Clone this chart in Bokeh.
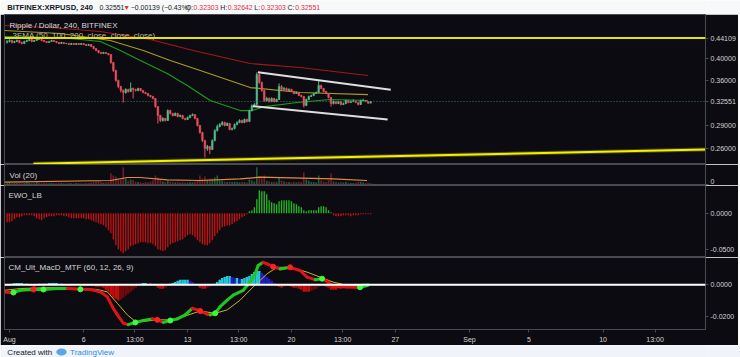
from bokeh.plotting import figure
from bokeh.layouts import column
from bokeh.models import Range1d, FixedTicker, PrintfTickFormatter, Span
from bokeh.core.properties import value
from bokeh.embed import file_html
from bokeh.resources import INLINE

# ---------------- data ----------------
N = 148
day = [0.8333 + i / 6 for i in range(N)]   # 4h candles, day of August (Sep 1 = 32)
first_open = 0.4319
close = [
    0.4339, 0.4360, 0.4319, 0.4339, 0.4360, 0.4319, 0.4298, 0.4339, 0.4360, 0.4381,
    0.4339, 0.4360, 0.4402, 0.4381, 0.4360, 0.4339, 0.4319, 0.4339, 0.4360, 0.4339,
    0.4319, 0.4298, 0.4319, 0.4298, 0.4298, 0.4277, 0.4298, 0.4277, 0.4298, 0.4277,
    0.4298, 0.4277, 0.4257, 0.4277, 0.4237, 0.4196, 0.4156, 0.4117, 0.4097, 0.4117,
    0.4097, 0.4077, 0.3924, 0.3777, 0.3600, 0.3498, 0.3432, 0.3399, 0.3448, 0.3415,
    0.3465, 0.3448, 0.3432, 0.3465, 0.3432, 0.3399, 0.3383, 0.3350, 0.3334, 0.3303,
    0.3178, 0.3044, 0.2972, 0.3001, 0.2972, 0.3118, 0.3074, 0.3044, 0.3074, 0.3030,
    0.3044, 0.3001, 0.2986, 0.3015, 0.3044, 0.3059, 0.3001, 0.2902, 0.2806, 0.2701,
    0.2599, 0.2624, 0.2587, 0.2701, 0.2833, 0.2888, 0.2916, 0.2944, 0.2902, 0.2930,
    0.2847, 0.2860, 0.2916, 0.2944, 0.2972, 0.2944, 0.2986, 0.2958, 0.3118, 0.3194,
    0.3209, 0.3705, 0.3566, 0.3432, 0.3271, 0.3303, 0.3255, 0.3303, 0.3255, 0.3287,
    0.3498, 0.3448, 0.3465, 0.3432, 0.3448, 0.3415, 0.3383, 0.3399, 0.3350, 0.3334,
    0.3194, 0.3287, 0.3334, 0.3350, 0.3383, 0.3399, 0.3515, 0.3465, 0.3415, 0.3383,
    0.3318, 0.3224, 0.3255, 0.3224, 0.3255, 0.3209, 0.3224, 0.3271, 0.3240, 0.3255,
    0.3262, 0.3240, 0.3209, 0.3271, 0.3271, 0.3255, 0.32303, 0.32551]
high = [
    0.4370, 0.4385, 0.4375, 0.4355, 0.4380, 0.4370, 0.4335, 0.4355, 0.4378, 0.4400,
    0.4395, 0.4372, 0.4425, 0.4415, 0.4392, 0.4370, 0.4350, 0.4352, 0.4375, 0.4368,
    0.4348, 0.4328, 0.4332, 0.4325, 0.4310, 0.4305, 0.4310, 0.4305, 0.4308, 0.4302,
    0.4310, 0.4305, 0.4285, 0.4290, 0.4285, 0.4245, 0.4205, 0.4165, 0.4130, 0.4130,
    0.4125, 0.4110, 0.4085, 0.3935, 0.3790, 0.3615, 0.3510, 0.3450, 0.3470, 0.3460,
    0.3566, 0.3480, 0.3462, 0.3478, 0.3470, 0.3440, 0.3410, 0.3390, 0.3360, 0.3345,
    0.3310, 0.3185, 0.3055, 0.3020, 0.3010, 0.3135, 0.3130, 0.3085, 0.3090, 0.3085,
    0.3060, 0.3055, 0.3010, 0.3030, 0.3055, 0.3075, 0.3065, 0.3010, 0.2910, 0.2815,
    0.2710, 0.2645, 0.2635, 0.2715, 0.2850, 0.2915, 0.2935, 0.2965, 0.2955, 0.2945,
    0.2940, 0.2875, 0.2930, 0.2960, 0.2990, 0.2985, 0.3000, 0.3000, 0.3130, 0.3210,
    0.3230, 0.3741, 0.3725, 0.3580, 0.3445, 0.3330, 0.3320, 0.3320, 0.3315, 0.3300,
    0.3549, 0.3520, 0.3490, 0.3480, 0.3470, 0.3460, 0.3425, 0.3415, 0.3410, 0.3365,
    0.3345, 0.3300, 0.3350, 0.3365, 0.3395, 0.3415, 0.3600, 0.3530, 0.3475, 0.3425,
    0.3390, 0.3325, 0.3270, 0.3265, 0.3268, 0.3262, 0.3240, 0.3285, 0.3280, 0.3270,
    0.3290, 0.3270, 0.3248, 0.3285, 0.3300, 0.3280, 0.3262, 0.32642]
low = [
    0.4300, 0.4320, 0.4300, 0.4305, 0.4325, 0.4300, 0.4280, 0.4285, 0.4330, 0.4345,
    0.4325, 0.4330, 0.4350, 0.4370, 0.4345, 0.4325, 0.4305, 0.4310, 0.4330, 0.4328,
    0.4305, 0.4285, 0.4290, 0.4288, 0.4285, 0.4265, 0.4270, 0.4268, 0.4270, 0.4265,
    0.4270, 0.4262, 0.4245, 0.4250, 0.4225, 0.4180, 0.4140, 0.4100, 0.4085, 0.4090,
    0.4085, 0.4060, 0.3900, 0.3750, 0.3580, 0.3470, 0.3400, 0.3240, 0.3380, 0.3395,
    0.3405, 0.3303, 0.3415, 0.3420, 0.3420, 0.3385, 0.3370, 0.3335, 0.3320, 0.3290,
    0.3160, 0.2930, 0.2950, 0.2955, 0.2960, 0.2965, 0.3060, 0.3030, 0.3035, 0.3020,
    0.3020, 0.2990, 0.2975, 0.2980, 0.3005, 0.3035, 0.2990, 0.2890, 0.2790, 0.2680,
    0.2489, 0.2570, 0.2530, 0.2580, 0.2690, 0.2820, 0.2875, 0.2900, 0.2890, 0.2895,
    0.2835, 0.2835, 0.2850, 0.2905, 0.2935, 0.2930, 0.2935, 0.2945, 0.2950, 0.3105,
    0.3180, 0.3195, 0.3545, 0.3410, 0.3250, 0.3255, 0.3240, 0.3245, 0.3240, 0.3245,
    0.3280, 0.3435, 0.3440, 0.3420, 0.3425, 0.3405, 0.3370, 0.3375, 0.3340, 0.3320,
    0.3163, 0.3185, 0.3275, 0.3325, 0.3340, 0.3375, 0.3390, 0.3455, 0.3405, 0.3370,
    0.3305, 0.3178, 0.3210, 0.3212, 0.3215, 0.3195, 0.3200, 0.3215, 0.3230, 0.3232,
    0.3245, 0.3230, 0.3195, 0.3200, 0.3255, 0.3245, 0.3220, 0.32303]
volume = [
    8, 12, 6, 9, 7, 10, 6, 8, 12, 9,
    7, 6, 14, 8, 6, 7, 9, 6, 8, 7,
    6, 8, 7, 6, 5, 7, 6, 5, 7, 6,
    5, 6, 8, 6, 10, 14, 16, 18, 12, 9,
    10, 14, 55, 45, 40, 30, 25, 85, 30, 18,
    25, 22, 14, 12, 10, 9, 12, 10, 14, 20,
    45, 35, 25, 15, 12, 20, 14, 12, 10, 12,
    9, 12, 10, 9, 11, 10, 14, 22, 45, 30,
    40, 25, 30, 28, 35, 45, 20, 18, 14, 12,
    15, 12, 14, 12, 10, 12, 11, 10, 25, 20,
    15, 85, 40, 30, 45, 18, 15, 12, 14, 12,
    35, 20, 15, 12, 12, 10, 14, 10, 14, 12,
    60, 25, 18, 12, 12, 10, 45, 20, 15, 12,
    22, 55, 15, 12, 10, 12, 10, 14, 9, 8,
    8, 9, 12, 14, 10, 8, 9, 6]
vol_ma_day = [0.664, 7.797, 8.941, 9.816, 11.633, 13.853, 16.545, 17.891, 22.803, 25.091]
vol_ma = [11.4, 19.8, 34.6, 34.6, 23.2, 19.8, 28.2, 36.1, 28.2, 19.8]

ema200_day = [0.664, 3.759, 7.124, 10.489, 13.382, 17.218, 20.583, 25.158]
ema200 = [0.4685, 0.4640, 0.4552, 0.4381, 0.4156, 0.3905, 0.3831, 0.3687]
ema100_day = [0.664, 4.432, 7.797, 10.018, 11.835, 13.853, 17.218, 20.583, 25.158]
ema100 = [0.4574, 0.4509, 0.4360, 0.4156, 0.3962, 0.3777, 0.3481, 0.3399, 0.3366]
ema50_day = [0.664, 4.432, 7.124, 8.470, 9.816, 11.633, 12.978, 14.526, 16.545,
             17.353, 18.228, 20.381, 22.602, 25.158]
ema50 = [0.4444, 0.4423, 0.4339, 0.4156, 0.3962, 0.3723, 0.3515, 0.3271, 0.3118,
         0.3118, 0.3178, 0.3240, 0.3287, 0.3271]

level_line = 0.44109
last_price = 0.32551
trend_day = [2.615, 47.9]
trend_val = [0.2417, 0.2587]
chan_up_day = [17.74, 26.69]
chan_up_val = [0.3746, 0.3443]
chan_lo_day = [17.40, 26.48]
chan_lo_val = [0.3183, 0.2986]

ewo = [
    -0.0123, -0.0123, -0.0109, -0.0082, -0.0055, -0.0055, -0.0041, -0.0027, -0.0027, -0.0027,
    -0.0027, -0.0041, -0.0068, -0.0082, -0.0096, -0.0068, -0.0055, -0.0041, -0.0041, -0.0041,
    -0.0027, -0.0027, -0.0027, -0.0041, -0.0041, -0.0055, -0.0068, -0.0068, -0.0068, -0.0068,
    -0.0068, -0.0068, -0.0082, -0.0082, -0.0096, -0.0109, -0.0123, -0.0137, -0.0150, -0.0164,
    -0.0191, -0.0232, -0.0273, -0.0355, -0.0437, -0.0492, -0.0519, -0.0546, -0.0519, -0.0492,
    -0.0451, -0.0437, -0.0423, -0.0410, -0.0396, -0.0396, -0.0396, -0.0410, -0.0410, -0.0423,
    -0.0451, -0.0492, -0.0505, -0.0519, -0.0505, -0.0464, -0.0423, -0.0410, -0.0396, -0.0382,
    -0.0369, -0.0355, -0.0328, -0.0301, -0.0287, -0.0301, -0.0328, -0.0369, -0.0396, -0.0423,
    -0.0437, -0.0437, -0.0410, -0.0369, -0.0314, -0.0273, -0.0232, -0.0191, -0.0178, -0.0164,
    -0.0164, -0.0150, -0.0123, -0.0109, -0.0082, -0.0055, -0.0041, -0.0014, 0.0027, 0.0041,
    0.0082, 0.0191, 0.0314, 0.0301, 0.0301, 0.0260, 0.0178, 0.0150, 0.0137, 0.0123,
    0.0164, 0.0178, 0.0178, 0.0178, 0.0178, 0.0164, 0.0137, 0.0123, 0.0096, 0.0082,
    0.0041, 0.0027, 0.0041, 0.0041, 0.0041, 0.0041, 0.0082, 0.0096, 0.0096, 0.0082,
    0.0041, 0.0014, -0.0027, -0.0041, -0.0041, -0.0041, -0.0027, -0.0027, -0.0027, -0.0041,
    -0.0027, -0.0027, -0.0027, -0.0014, -0.0014, -0.0014, -0.0014, -0.0014]

macd_hist = [
    -0.0006, -0.0006, 0.0006, 0.0012, 0.0012, 0.0012, 0.0012, 0.0006, 0.0006, -0.0006,
    -0.0006, -0.0012, -0.0006, 0.0006, 0.0006, 0.0006, 0.0006, 0.0012, 0.0012, 0.0012,
    0.0012, 0.0006, 0.0006, 0.0003, -0.0003, -0.0003, -0.0003, 0.0003, 0.0003, 0.0003,
    -0.0003, -0.0006, -0.0006, -0.0006, -0.0006, -0.0006, -0.0012, -0.0012, -0.0012, -0.0018,
    -0.0031, -0.0043, -0.0061, -0.0080, -0.0086, -0.0098, -0.0092, -0.0080, -0.0067, -0.0055,
    -0.0043, -0.0031, -0.0018, -0.0006, 0.0006, 0.0012, 0.0012, 0.0006, 0.0006, 0.0003,
    -0.0006, -0.0018, -0.0025, -0.0025, -0.0018, -0.0006, 0.0006, 0.0012, 0.0018, 0.0025,
    0.0031, 0.0031, 0.0031, 0.0031, 0.0025, 0.0018, 0.0006, -0.0006, -0.0018, -0.0025,
    -0.0025, -0.0018, -0.0012, -0.0006, 0.0006, 0.0018, 0.0031, 0.0043, 0.0049, 0.0055,
    0.0055, 0.0049, 0.0043, 0.0043, 0.0037, 0.0037, 0.0043, 0.0049, 0.0055, 0.0067,
    0.0080, 0.0086, 0.0086, 0.0074, 0.0061, 0.0049, 0.0037, 0.0025, 0.0012, -0.0006,
    -0.0012, -0.0018, -0.0012, -0.0006, -0.0006, -0.0012, -0.0018, -0.0018, -0.0025, -0.0031,
    -0.0043, -0.0043, -0.0043, -0.0037, -0.0031, -0.0025, -0.0012, -0.0006, -0.0006, -0.0012,
    -0.0018, -0.0031, -0.0031, -0.0031, -0.0025, -0.0025, -0.0018, -0.0018, -0.0012, -0.0012,
    -0.0006, -0.0006, -0.0003, 0.0003, 0.0006, 0.0006, 0.0006, 0.0003]

macd_day = [0.664, 1.202, 1.740, 2.615, 3.288, 4.230, 4.903, 5.778, 6.451, 7.124,
            7.595, 7.931, 8.268, 8.672, 9.008, 9.479, 10.018, 10.623, 10.960, 11.363,
            11.835, 12.306, 12.844, 13.315, 13.651, 14.324, 14.526, 14.863, 15.199, 15.670,
            16.074, 16.747, 17.218, 17.555, 17.756, 18.093, 18.362, 18.766, 19.237, 19.910,
            20.583, 21.054, 21.592, 22.063, 22.467, 22.803, 23.746, 24.620, 25.158]
macd_line = [-0.0044, -0.0050, -0.0034, -0.0029, -0.0029, -0.0023, -0.0023, -0.0028, -0.0029, -0.0044,
             -0.0075, -0.0136, -0.0187, -0.0238, -0.0248, -0.0234, -0.0222, -0.0212, -0.0218, -0.0234,
             -0.0222, -0.0212, -0.0187, -0.0146, -0.0156, -0.0183, -0.0187, -0.0177, -0.0136, -0.0095,
             -0.0064, -0.0034, 0.0017, 0.0069, 0.0120, 0.0140, 0.0130, 0.0113, 0.0099, 0.0109,
             0.0089, 0.0048, 0.0032, 0.0038, 0.0017, -0.0009, -0.0013, -0.0017, -0.0003]
signal_day = [0.664, 1.740, 3.759, 5.778, 6.922, 7.595, 8.268, 8.941, 9.479, 10.018,
              10.960, 11.835, 12.709, 13.853, 14.863, 15.670, 16.545, 17.420, 18.362, 19.035,
              19.910, 21.054, 21.929, 22.803, 23.746, 25.158]
signal_line = [-0.0034, -0.0023, -0.0017, -0.0023, -0.0029, -0.0044, -0.0115, -0.0187, -0.0228, -0.0228,
               -0.0218, -0.0218, -0.0198, -0.0163, -0.0177, -0.0156, -0.0095, -0.0013, 0.0069, 0.0109,
               0.0109, 0.0079, 0.0048, 0.0017, -0.0003, -0.0003]
cross_day = [1.269, 2.615, 3.288, 5.778, 9.479, 10.960, 11.835, 13.853, 14.863, 18.766, 19.910, 22.063, 24.620]
cross_val = [-0.0048, -0.0029, -0.0029, -0.0028, -0.0234, -0.0218, -0.0222, -0.0163, -0.0177, 0.0113, 0.0109, 0.0038, -0.0015]
cross_up = [True, False, True, True, True, False, True, False, True, False, False, True, True]

# price scale: regular ticks plus the two price tags (0.44109 level, 0.32551 last)
price_ticks = [0.26, 0.29, 0.32551, 0.36, 0.40, 0.44109]
vol_ticks = [0]
ewo_ticks = [0.0, -0.05]
macd_ticks = [0.0, -0.02]
x_ticks = [1, 6, 9.45, 13, 16.45, 20, 23.45, 27, 32, 36, 41, 44.5]
x_labels = ["Aug", "6", "13:00", "13", "13:00", "20", "13:00", "27", "Sep", "5", "10", "13:00"]

header_parts = ["BITFINEX:XRPUSD, 240", "0.32551", "\u25bc", "\u22120.00139 (\u22120.43%)", "O:", "0.32303",
                "H:", "0.32642", "L:", "0.32303", "C:", "0.32551"]

# ---------------- style ----------------
BG = "#0d0b12"
EDGE = "#4a4a52"
TXT = "#d4d4d4"
FONT = "Liberation Sans"
LIGHT = "#f0f3fa"
xr = Range1d(0.664, 47.90)


def pane(height, yr, ticks, fmt, ylog=False, xaxis=False):
    p = figure(width=738, height=height, x_range=xr, y_range=yr,
               y_axis_type="log" if ylog else "linear",
               x_axis_location="below" if xaxis else None, y_axis_location="right",
               output_backend="svg", toolbar_location=None,
               min_border_left=4, min_border_right=32, min_border_top=0,
               min_border_bottom=15 if xaxis else 0,
               background_fill_color=BG, border_fill_color=BG,
               outline_line_color=EDGE, outline_line_width=1)
    p.xgrid.grid_line_color = None
    p.ygrid.grid_line_color = None
    ax = p.yaxis[0]
    ax.ticker = FixedTicker(ticks=ticks, minor_ticks=[])
    ax.formatter = PrintfTickFormatter(format=fmt)
    ax.axis_line_color = EDGE
    ax.major_tick_line_color = EDGE
    ax.major_tick_out = 3
    ax.major_tick_in = 0
    ax.minor_tick_line_color = None
    ax.major_label_standoff = 2
    ax.major_label_text_font = FONT
    ax.major_label_text_font_size = "7px"
    ax.major_label_text_color = TXT
    return p


def pane_title(p, x, y, text, size="8px", color=TXT):
    p.text(x=[x], y=[y], text=[text], text_font=value(FONT), text_font_size=size,
           text_color=color, text_baseline="middle", text_align="left")


# ---------------- header ----------------
hdr = figure(width=740, height=14, x_range=Range1d(0, 740), y_range=Range1d(14, 0),
             output_backend="svg", toolbar_location=None, x_axis_location=None,
             y_axis_location=None, min_border=0, background_fill_color="#f7f8fa",
             border_fill_color="#f7f8fa", outline_line_color=None)
hdr.xgrid.grid_line_color = None
hdr.ygrid.grid_line_color = None
hx = [3, 100, 125, 133, 191, 199, 227, 235, 263, 270, 298, 306]
hc = ["#131722", "#131722", "#e0303c", "#131722", "#131722", "#e0303c",
      "#131722", "#e0303c", "#131722", "#e0303c", "#131722", "#e0303c"]
hdr.text(x=hx[:1], y=[7], text=header_parts[:1], text_font=value(FONT), text_font_size="7.6px",
         text_font_style="bold", text_color=hc[:1], text_baseline="middle")
hdr.text(x=hx[1:], y=[7] * 11, text=header_parts[1:], text_font=value(FONT), text_font_size="6.9px",
         text_color=hc[1:], text_baseline="middle")

# ---------------- price pane ----------------
pp = pane(150, Range1d(0.2408, 0.4938), price_ticks, "%.5f", ylog=True)
opens = [first_open] + close[:-1]
UP, DN = "#53b987", "#eb4d5c"
ccol = [UP if c >= o else DN for o, c in zip(opens, close)]
ctop = [max(o, c) for o, c in zip(opens, close)]
cbot = [min(o, c) for o, c in zip(opens, close)]

pp.add_layout(Span(location=level_line, dimension="width", line_color="#e4e400", line_width=2))
pp.add_layout(Span(location=last_price, dimension="width", line_color="#3f7f68",
                   line_width=1, line_dash="1 2"))
pp.line(ema200_day, ema200, line_color="#a31818", line_width=1.2)
pp.line(ema100_day, ema100, line_color="#a89a22", line_width=1.2)
pp.line(ema50_day, ema50, line_color="#1a9c1a", line_width=1.2)
pp.segment(x0=day, y0=low, x1=day, y1=high, line_color=ccol, line_width=1)
pp.vbar(x=day, top=ctop, bottom=cbot, width=0.11, fill_color=ccol, line_color=ccol, line_width=0.5)
pp.line(trend_day, trend_val, line_color="#6e6a00", line_width=4, line_alpha=0.6)
pp.line(trend_day, trend_val, line_color="#f2f200", line_width=2)
pp.line(chan_up_day, chan_up_val, line_color="#dedede", line_width=2)
pp.line(chan_lo_day, chan_lo_val, line_color="#dedede", line_width=2)
pane_title(pp, 1.0, 0.4685, "Ripple / Dollar, 240, BITFINEX", "8px", "#d8d8d8")
pane_title(pp, 1.2, 0.4466, "3EMA (50, 100, 200, close, close, close)", "8px", "#b8b8b8")

# ---------------- volume pane ----------------
vp = pane(21, Range1d(-5, 99), vol_ticks, "%d")
VUP, VDN = "#1f5a36", "#6a1f29"
vcol = [VUP if c >= o else VDN for o, c in zip(opens, close)]
vp.vbar(x=day, top=volume, bottom=0, width=0.11, fill_color=vcol, line_color=None)
vp.line(vol_ma_day, vol_ma, line_color="#e08c3c", line_width=1.2)
pane_title(vp, 1.0, 44.5, "Vol (20)", "8px")

# ---------------- EWO pane ----------------
ep = pane(72, Range1d(-0.0605, 0.0378), ewo_ticks, "%.4f")
ecol = ["#22b822" if v >= 0 else "#c41212" for v in ewo]
ep.vbar(x=day, top=ewo, bottom=0, width=0.09, fill_color=ecol, line_color=None)
pane_title(ep, 0.93, 0.0235, "EWO_LB", "8px")

# ---------------- MACD pane ----------------
mp = pane(88, Range1d(-0.0278, 0.0170), macd_ticks, "%.4f", xaxis=True)
hcol = []
prev = 0.0
for h in macd_hist:
    if h >= 0:
        hcol.append("#26c6da" if h >= prev else "#1c20c4")
    else:
        hcol.append("#6e0a0a" if h > prev else "#c20e0e")
    prev = h
mp.vbar(x=day, top=macd_hist, bottom=0, width=1 / 6, fill_color=hcol, line_color=None)
mp.add_layout(Span(location=0, dimension="width", line_color="#ffffff", line_width=2))
mp.line(signal_day, signal_line, line_color="#c8b428", line_width=1)
seg_col = ["#1ec81e" if b >= a else "#e01414" for a, b in zip(macd_line[:-1], macd_line[1:])]
mp.segment(x0=macd_day[:-1], y0=macd_line[:-1], x1=macd_day[1:], y1=macd_line[1:],
           line_color=seg_col, line_width=3, line_cap="round")
mp.scatter(cross_day, cross_val, size=5, marker="circle",
           color=["#3cff3c" if u else "#ff2020" for u in cross_up])
pane_title(mp, 0.93, 0.01055, "CM_Ult_MacD_MTF (60, 12, 26, 9)", "8px")
xa = mp.xaxis[0]
xa.ticker = FixedTicker(ticks=x_ticks, minor_ticks=[])
xa.major_label_overrides = {t: l for t, l in zip(x_ticks, x_labels)}
xa.axis_line_color = EDGE
xa.major_tick_line_color = EDGE
xa.major_tick_out = 3
xa.major_tick_in = 0
xa.minor_tick_line_color = None
xa.major_label_standoff = 3
xa.major_label_text_font = FONT
xa.major_label_text_font_size = "7px"
xa.major_label_text_color = TXT

# ---------------- footer ----------------
ft = figure(width=740, height=12, x_range=Range1d(0, 740), y_range=Range1d(12, 0),
            output_backend="svg", toolbar_location=None, x_axis_location=None,
            y_axis_location=None, min_border=0, background_fill_color=LIGHT,
            border_fill_color=LIGHT, outline_line_color=None)
ft.xgrid.grid_line_color = None
ft.ygrid.grid_line_color = None
ft.text(x=[3], y=[6.5], text=["Created with"], text_font=value(FONT), text_font_size="8px",
        text_color="#131722", text_baseline="middle")
ft.ellipse(x=[60], y=[6.5], width=11, height=7, fill_color="#5aa7e6", line_color=None)
ft.text(x=[69], y=[6.5], text=["TradingView"], text_font=value(FONT), text_font_size="8px",
        text_color="#2a8fe6", text_baseline="middle")

layout = column(hdr, pp, vp, ep, mp, ft, spacing=0)
open("out.html", "w").write(file_html(layout, INLINE))
